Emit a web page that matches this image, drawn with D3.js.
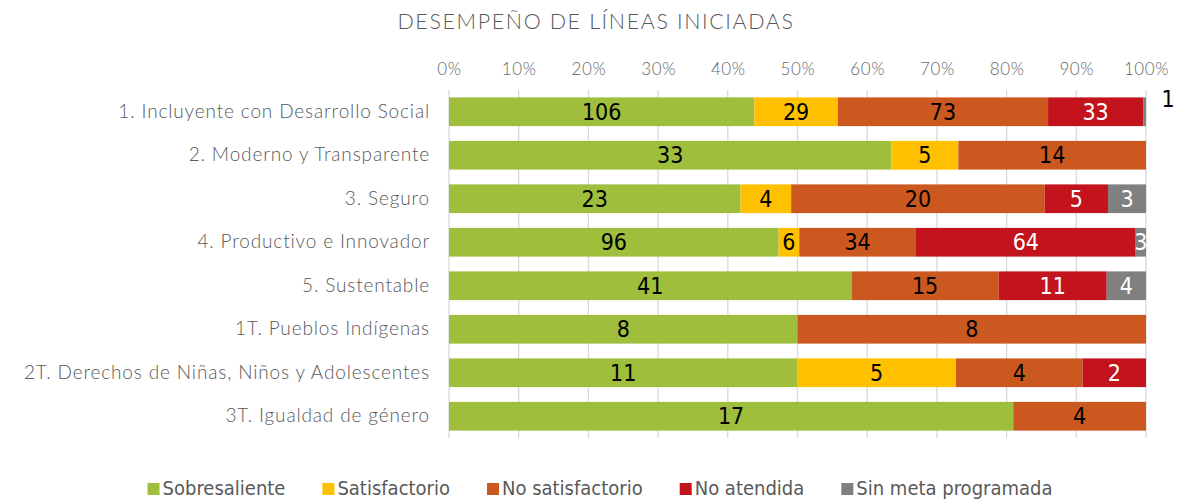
<!DOCTYPE html>
<html><head><meta charset="utf-8">
<script src="https://cdn.jsdelivr.net/npm/d3@7"></script>
<style>body{margin:0;background:#fff}svg{display:block}</style>
</head><body><svg id="c" width="1179" height="501"></svg>
<script>
const categories = ["1. Incluyente con Desarrollo Social","2. Moderno y Transparente","3. Seguro","4. Productivo e Innovador","5. Sustentable","1T. Pueblos Indígenas","2T. Derechos de Niñas, Niños y Adolescentes","3T. Igualdad de género"];
const seriesNames = ["Sobresaliente","Satisfactorio","No satisfactorio","No atendida","Sin meta programada"];
const sobresaliente = [106,33,23,96,41,8,11,17];
const satisfactorio = [29,5,4,6,0,0,5,0];
const noSatisfactorio = [73,14,20,34,15,8,4,4];
const noAtendida = [33,0,5,64,11,0,2,0];
const sinMeta = [1,0,3,3,4,0,0,0];
const tickLabels = ["0%","10%","20%","30%","40%","50%","60%","70%","80%","90%","100%"];
const colors = ["#9FBE3C","#FFC000","#CB581F","#C3141D","#808080"];
const labelColors = ["#000","#000","#000","#fff","#fff"];

const seriesVals = [sobresaliente,satisfactorio,noSatisfactorio,noAtendida,sinMeta];
const svg = d3.select("#c");
const x = d3.scaleLinear().domain([0,1]).range([449,1146]);
const y = d3.scaleBand().domain(categories).range([90,438]).paddingInner(0.34).paddingOuter(0.17);
const labelFont = "'Liberation Sans Narrow','DejaVu Sans Condensed',sans-serif";
const thinFont = "Lato, 'Open Sans', sans-serif";

// title
svg.append("text").attr("x",596).attr("y",29).attr("text-anchor","middle")
  .attr("font-family",thinFont).attr("font-weight",300).attr("font-size",21.5)
  .attr("letter-spacing",1.6).attr("fill","#595959")
  .text("DESEMPEÑO DE LÍNEAS INICIADAS");

// gridlines
const ticks = d3.range(0,1.0001,0.1);
svg.append("g").selectAll("line").data(ticks).join("line")
  .attr("x1",d=>x(d)).attr("x2",d=>x(d)).attr("y1",90).attr("y2",438)
  .attr("stroke","#d9d9d9").attr("stroke-width",1.3);

// top axis
const ax = svg.append("g").attr("transform","translate(0,80)")
  .call(d3.axisTop(x).tickValues(ticks).tickFormat((d,i)=>tickLabels[i]).tickSize(0).tickPadding(5));
ax.select(".domain").remove();
ax.selectAll("text").attr("font-family",thinFont).attr("font-weight",300).attr("font-size",17)
  .attr("letter-spacing",0.6).attr("fill","#666");

// category labels
const ay = svg.append("g").attr("transform","translate(449,0)")
  .call(d3.axisLeft(y).tickSize(0).tickPadding(19));
ay.select(".domain").remove();
ay.selectAll("text").attr("font-family",thinFont).attr("font-weight",300).attr("font-size",19)
  .attr("letter-spacing",0.85).attr("fill","#595959");

// stacked data
const rows = categories.map((c,i)=>{
  const total = d3.sum(seriesVals,s=>s[i]);
  let acc = 0;
  return seriesVals.map((s,k)=>{ const v=s[i]; const seg={cat:c,k,v,x0:acc/total,x1:(acc+v)/total}; acc+=v; return seg;});
});
const segs = rows.flat().filter(d=>d.v>0);
svg.append("g").selectAll("rect").data(segs).join("rect")
  .attr("x",d=>x(d.x0)).attr("width",d=>x(d.x1)-x(d.x0))
  .attr("y",d=>y(d.cat)).attr("height",y.bandwidth())
  .attr("fill",d=>colors[d.k]);

svg.append("g").selectAll("text").data(segs).join("text")
  .attr("x",d=> (d.x1-d.x0)<0.01 ? x(1)+22 : x((d.x0+d.x1)/2))
  .attr("y",d=> (d.x1-d.x0)<0.01 ? y(d.cat)+10 : y(d.cat)+y.bandwidth()/2+8)
  .attr("text-anchor","middle")
  .attr("font-family",labelFont).attr("font-size",23)
  .attr("fill",d=> (d.x1-d.x0)<0.01 ? "#000" : labelColors[d.k])
  .text(d=>d.v);

// legend
const lg = svg.append("g");
const items = lg.selectAll("g").data(seriesNames).join("g");
items.append("rect").attr("width",12).attr("height",12).attr("y",-12).attr("fill",(d,i)=>colors[i]);
items.append("text").attr("x",15).attr("font-family",labelFont).attr("font-size",20).attr("fill","#595959").text(d=>d);
let pos = 0; const offs=[];
items.each(function(d,i){ offs.push(pos); pos += 15 + this.querySelector("text").getComputedTextLength() + 37; });
pos -= 37;
const startX = 600 - pos/2;
items.attr("transform",(d,i)=>`translate(${startX+offs[i]},495)`);
</script></body></html>
